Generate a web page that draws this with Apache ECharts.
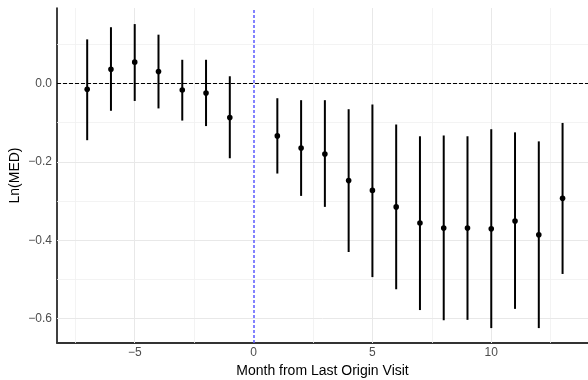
<!DOCTYPE html>
<html><head><meta charset="utf-8">
<script src="https://cdn.jsdelivr.net/npm/echarts@6/dist/echarts.min.js"></script>
<style>html,body{margin:0;padding:0;background:#fff}#c{width:588px;height:380px}</style>
</head><body><div id="c"></div>
<script>
const months = [-7, -6, -5, -4, -3, -2, -1, 1, 2, 3, 4, 5, 6, 7, 8, 9, 10, 11, 12, 13];
const estimates = [-0.015, 0.036, 0.054, 0.030, -0.017, -0.025, -0.087, -0.134, -0.165, -0.180, -0.248, -0.273, -0.315, -0.356, -0.369, -0.369, -0.371, -0.351, -0.386, -0.293];
const lower = [-0.145, -0.070, -0.045, -0.064, -0.095, -0.109, -0.191, -0.230, -0.287, -0.315, -0.430, -0.494, -0.525, -0.578, -0.604, -0.603, -0.624, -0.575, -0.624, -0.486];
const upper = [0.112, 0.143, 0.151, 0.124, 0.060, 0.060, 0.018, -0.038, -0.043, -0.043, -0.066, -0.054, -0.105, -0.135, -0.133, -0.135, -0.117, -0.125, -0.148, -0.101];
const xTicks = [-5, 0, 5, 10];
const xMinorGrid = [-7.5, -2.5, 2.5, 7.5, 12.5];
const yTicks = [0, -0.2, -0.4, -0.6];
const yMinorGrid = [0.1, -0.1, -0.3, -0.5];

const FONT = '"Liberation Sans", Arial, sans-serif';
const chart = echarts.init(document.getElementById('c'), null, {renderer: 'canvas'});

const majorStyle = {color: '#e8e8e8', width: 1, type: 'solid'};
const minorStyle = {color: '#f0f0f0', width: 0.8, type: 'solid'};
const gridLines = [];
xTicks.filter(v => v !== 0).forEach(v => gridLines.push({xAxis: v, lineStyle: majorStyle}));
xMinorGrid.forEach(v => gridLines.push({xAxis: v, lineStyle: minorStyle}));
yTicks.forEach(v => gridLines.push({yAxis: v, lineStyle: majorStyle}));
yMinorGrid.forEach(v => gridLines.push({yAxis: v, lineStyle: minorStyle}));

const barData = months.map((m, i) => [m, lower[i], upper[i], estimates[i]]);

chart.setOption({
  animation: false,
  backgroundColor: '#fff',
  grid: {left: 57, right: 0, top: 8, bottom: 37, containLabel: false, outerBoundsMode: 'none'},
  xAxis: {
    type: 'value', min: -8.27, max: 14.07,
    name: 'Month from Last Origin Visit', nameLocation: 'middle', nameGap: 21, nameMoveOverlap: false,
    nameTextStyle: {fontFamily: FONT, fontSize: 14, color: '#000'},
    axisLine: {show: true, onZero: false, lineStyle: {color: '#333', width: 2}},
    axisTick: {show: false},
    splitLine: {show: false},
    axisLabel: {customValues: xTicks, color: '#4d4d4d', fontSize: 12, fontFamily: FONT, margin: 4,
      formatter: v => (v < 0 ? '\u2212' : '') + Math.abs(v)}
  },
  yAxis: {
    type: 'value', min: -0.662, max: 0.192,
    name: 'Ln(MED)', nameLocation: 'middle', nameGap: 35, nameMoveOverlap: false,
    nameTextStyle: {fontFamily: FONT, fontSize: 14, color: '#000'},
    axisLine: {show: true, onZero: false, lineStyle: {color: '#000', width: 1.5}},
    axisTick: {show: false},
    splitLine: {show: false},
    axisLabel: {customValues: yTicks, color: '#4d4d4d', fontSize: 12, fontFamily: FONT, margin: 5,
      formatter: v => (v < -1e-9 ? '\u2212' : '') + Math.abs(v).toFixed(1)}
  },
  series: [
    {
      type: 'line', data: [], silent: true, z: 1,
      markLine: {silent: true, symbol: 'none', label: {show: false}, animation: false, data: gridLines}
    },
    {
      type: 'line', data: [], silent: true, z: 2,
      markLine: {silent: true, symbol: 'none', label: {show: false}, animation: false, data: [
        {yAxis: 0, lineStyle: {color: '#000', width: 1, type: [4, 2]}},
        {xAxis: 0, lineStyle: {color: '#5a5aff', width: 1.5, type: [3, 2]}}
      ]}
    },
    {
      type: 'custom', z: 5,
      data: barData,
      encode: {x: 0, y: [1, 2, 3]},
      renderItem: function (params, api) {
        const x = api.value(0);
        const p1 = api.coord([x, api.value(1)]);
        const p2 = api.coord([x, api.value(2)]);
        const c = api.coord([x, api.value(3)]);
        return {
          type: 'group',
          children: [
            {type: 'line', shape: {x1: p1[0], y1: p1[1], x2: p2[0], y2: p2[1]}, style: {stroke: '#000', lineWidth: 2}},
            {type: 'circle', shape: {cx: c[0], cy: c[1], r: 2.8}, style: {fill: '#000'}}
          ]
        };
      }
    }
  ]
});
</script></body></html>
